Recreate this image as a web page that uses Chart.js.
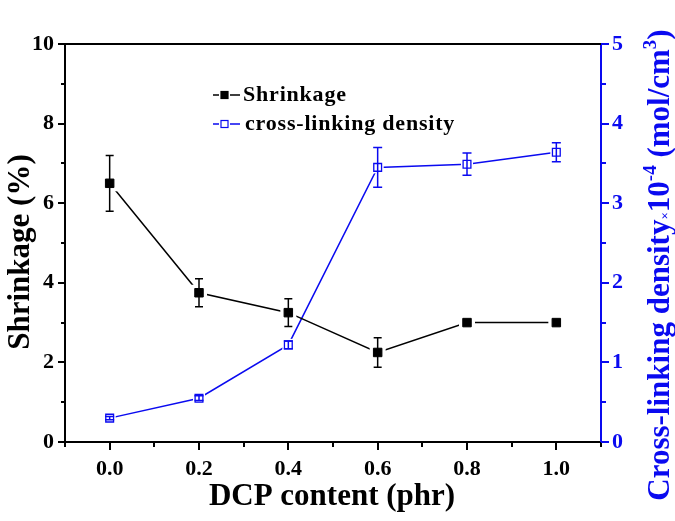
<!DOCTYPE html>
<html>
<head>
<meta charset="utf-8">
<script src="https://cdn.jsdelivr.net/npm/chart.js@4/dist/chart.umd.min.js"></script>
<style>
  html, body { margin: 0; padding: 0; background: #fff; }
  #wrap { width: 675px; height: 521px; position: relative; }
</style>
</head>
<body>
<div id="wrap"><canvas id="c" width="675" height="521"></canvas></div>
<script>
// ---- data ----
const dcp = [0, 0.2, 0.4, 0.6, 0.8, 1.0];
const shrinkage = [6.5, 3.75, 3.25, 2.25, 3.0, 3.0];
const shrinkageErr = [0.7, 0.35, 0.35, 0.37, 0, 0];
const crosslink = [0.30, 0.55, 1.22, 3.45, 3.49, 3.64];
const crosslinkErr = [0.02, 0.03, 0.05, 0.25, 0.14, 0.12];
const xTicks = [0.0, 0.2, 0.4, 0.6, 0.8, 1.0];
const leftTicks = [0, 2, 4, 6, 8, 10];
const rightTicks = [0, 1, 2, 3, 4, 5];
const seriesNames = ['Shrinkage', 'cross-linking density'];

const BLUE = '#0A0AF0';
const FONT = "'Liberation Serif', 'Times New Roman', serif";

const errBars = [shrinkageErr, crosslinkErr];
const gapSize = [8, 6];

const decor = {
  id: 'decor',
  beforeDraw(chart) {
    const ctx = chart.ctx;
    ctx.save();
    ctx.fillStyle = '#fff';
    ctx.fillRect(0, 0, chart.width, chart.height);
    ctx.restore();
  },
  afterDatasetDraw(chart, args) {
    // leave a small gap between the line and each marker, then redraw the library's points
    const ctx = chart.ctx;
    const meta = args.meta;
    const g = gapSize[args.index];
    ctx.save();
    meta.data.forEach(el => {
      ctx.fillStyle = '#fff';
      ctx.fillRect(el.x - g, el.y - g, 2 * g, 2 * g);
    });
    meta.data.forEach(el => el.draw(ctx, chart.chartArea));
    ctx.restore();
  },
  afterDatasetsDraw(chart) {
    const ctx = chart.ctx;
    const xs = chart.scales.x;
    ctx.save();
    chart.data.datasets.forEach((ds, di) => {
      const ys = chart.scales[ds.yAxisID];
      const errs = errBars[di];
      ctx.strokeStyle = di === 0 ? '#000' : BLUE;
      ctx.lineWidth = 1.5;
      const cap = di === 0 ? 4 : 4.5;
      ds.data.forEach((p, i) => {
        const e = errs[i];
        if (!e) return;
        const x = xs.getPixelForValue(p.x);
        const y1 = ys.getPixelForValue(p.y + e);
        const y2 = ys.getPixelForValue(p.y - e);
        ctx.beginPath();
        ctx.moveTo(x, y1); ctx.lineTo(x, y2);
        ctx.moveTo(x - cap, y1); ctx.lineTo(x + cap, y1);
        ctx.moveTo(x - cap, y2); ctx.lineTo(x + cap, y2);
        ctx.stroke();
      });
    });
    ctx.restore();
  },
  afterDraw(chart) {
    const ctx = chart.ctx;
    const a = chart.chartArea;
    const xs = chart.scales.x, yl = chart.scales.y, yr = chart.scales.y2;
    ctx.save();
    // top frame line
    ctx.strokeStyle = '#000';
    ctx.lineWidth = 2;
    ctx.beginPath();
    ctx.moveTo(a.left - 1, a.top);
    ctx.lineTo(a.right, a.top);
    ctx.stroke();

    // tick marks
    ctx.lineWidth = 2;
    ctx.strokeStyle = '#000';
    ctx.beginPath();
    for (let v = 0; v <= 10; v++) {
      const y = Math.round(yl.getPixelForValue(v));
      const len = v % 2 === 0 ? 7 : 4;
      ctx.moveTo(a.left, y); ctx.lineTo(a.left - len, y);
    }
    for (let t = -1; t <= 11; t++) {
      const x = Math.round(xs.getPixelForValue(t / 10));
      const len = (t % 2 === 0) ? 8 : 5;
      ctx.moveTo(x, a.bottom); ctx.lineTo(x, a.bottom + len);
    }
    ctx.stroke();
    ctx.strokeStyle = BLUE;
    ctx.beginPath();
    for (let t = 0; t <= 10; t++) {
      const y = Math.round(yr.getPixelForValue(t / 2));
      const len = t % 2 === 0 ? 8 : 5;
      ctx.moveTo(a.right, y); ctx.lineTo(a.right + len, y);
    }
    ctx.stroke();

    // x title
    ctx.fillStyle = '#000';
    ctx.font = 'bold 31px ' + FONT;
    ctx.textAlign = 'center';
    ctx.textBaseline = 'middle';
    ctx.fillText('DCP content (phr)', 332, 497);

    // left title
    ctx.save();
    ctx.translate(21, 252);
    ctx.rotate(-Math.PI / 2);
    ctx.font = 'bold 31px ' + FONT;
    ctx.fillText('Shrinkage (%)', 0, 0);
    ctx.restore();

    // right title (mixed sizes)
    ctx.save();
    ctx.translate(669, 265);
    ctx.rotate(-Math.PI / 2);
    ctx.fillStyle = BLUE;
    ctx.textAlign = 'left';
    ctx.textBaseline = 'alphabetic';
    const big = 'bold 31px ' + FONT, small = 'bold 13px ' + FONT, sup = 'bold 19px ' + FONT;
    const parts = [
      ['Cross-linking density', big, 0],
      ['\u00d7', small, 0],
      ['10', big, 0],
      ['-4', sup, -13],
      [' (mol/cm', big, 0],
      ['3', sup, -13],
      [')', big, 0]
    ];
    let total = 0;
    parts.forEach(p => { ctx.font = p[1]; total += ctx.measureText(p[0]).width; });
    let cx = -total / 2;
    parts.forEach(p => {
      ctx.font = p[1];
      ctx.fillText(p[0], cx, p[2]);
      cx += ctx.measureText(p[0]).width;
    });
    ctx.restore();

    // legend
    const rows = [
      { y: 95, color: '#000', fill: '#000', text: seriesNames[0], tx: 243 },
      { y: 124, color: BLUE, fill: '#fff', text: seriesNames[1], tx: 245 }
    ];
    rows.forEach(r => {
      ctx.strokeStyle = r.color;
      ctx.lineWidth = 1.5;
      ctx.beginPath();
      ctx.moveTo(213, r.y); ctx.lineTo(219, r.y);
      ctx.moveTo(230, r.y); ctx.lineTo(240, r.y);
      ctx.stroke();
      ctx.fillStyle = r.fill;
      ctx.fillRect(221, r.y - 3.5, 7, 7);
      ctx.lineWidth = 1.2;
      ctx.strokeRect(221, r.y - 3.5, 7, 7);
      ctx.fillStyle = '#000';
      ctx.font = 'bold 22px ' + FONT;
      ctx.textAlign = 'left';
      ctx.textBaseline = 'middle';
      if ('letterSpacing' in ctx) ctx.letterSpacing = '0.8px';
      ctx.fillText(r.text, r.tx, r.y);
      if ('letterSpacing' in ctx) ctx.letterSpacing = '0px';
    });
    ctx.restore();
  }
};

const tickFont = { family: FONT, size: 22, weight: 'bold' };

new Chart(document.getElementById('c'), {
  type: 'line',
  data: {
    datasets: [
      {
        label: seriesNames[0],
        data: dcp.map((x, i) => ({ x, y: shrinkage[i] })),
        yAxisID: 'y',
        borderColor: '#000',
        borderWidth: 1.5,
        backgroundColor: '#000',
        pointStyle: 'rect',
        pointRadius: 6,
        pointBackgroundColor: '#000',
        pointBorderColor: '#000',
        pointBorderWidth: 1,
        tension: 0
      },
      {
        label: seriesNames[1],
        data: dcp.map((x, i) => ({ x, y: crosslink[i] })),
        yAxisID: 'y2',
        borderColor: BLUE,
        borderWidth: 1.5,
        backgroundColor: '#fff',
        pointStyle: 'rect',
        pointRadius: 5.5,
        pointBackgroundColor: '#fff',
        pointBorderColor: BLUE,
        pointBorderWidth: 1.3,
        tension: 0
      }
    ]
  },
  options: {
    responsive: false,
    animation: false,
    devicePixelRatio: 1,
    layout: { padding: { top: 44, left: 0, right: 0, bottom: 0 } },
    plugins: { legend: { display: false }, tooltip: { enabled: false } },
    scales: {
      x: {
        type: 'linear',
        position: 'bottom',
        min: -0.1, max: 1.1,
        grid: { display: false, drawTicks: false },
        border: { display: true, color: '#000', width: 2 },
        ticks: {
          stepSize: 0.1,
          autoSkip: false,
          maxRotation: 0,
          padding: 14,
          color: '#000',
          font: tickFont,
          callback: v => {
            const t = Math.round(v * 10);
            const hit = xTicks.find(k => Math.round(k * 10) === t);
            return hit !== undefined ? hit.toFixed(1) : '';
          }
        },
        afterFit: s => { s.height = 79; }
      },
      y: {
        type: 'linear',
        position: 'left',
        min: 0, max: 10,
        grid: { display: false, drawTicks: false },
        border: { display: true, color: '#000', width: 2 },
        ticks: {
          stepSize: 1,
          autoSkip: false,
          padding: 11,
          color: '#000',
          font: tickFont,
          callback: v => leftTicks.includes(v) ? String(v) : ''
        },
        afterFit: s => { s.width = 65; }
      },
      y2: {
        type: 'linear',
        position: 'right',
        min: 0, max: 5,
        grid: { display: false, drawTicks: false },
        border: { display: true, color: BLUE, width: 2 },
        ticks: {
          stepSize: 0.5,
          autoSkip: false,
          padding: 11,
          color: BLUE,
          font: tickFont,
          callback: v => rightTicks.includes(v) ? String(v) : ''
        },
        afterFit: s => { s.width = 74; }
      }
    }
  },
  plugins: [decor]
});
</script>
</body>
</html>
